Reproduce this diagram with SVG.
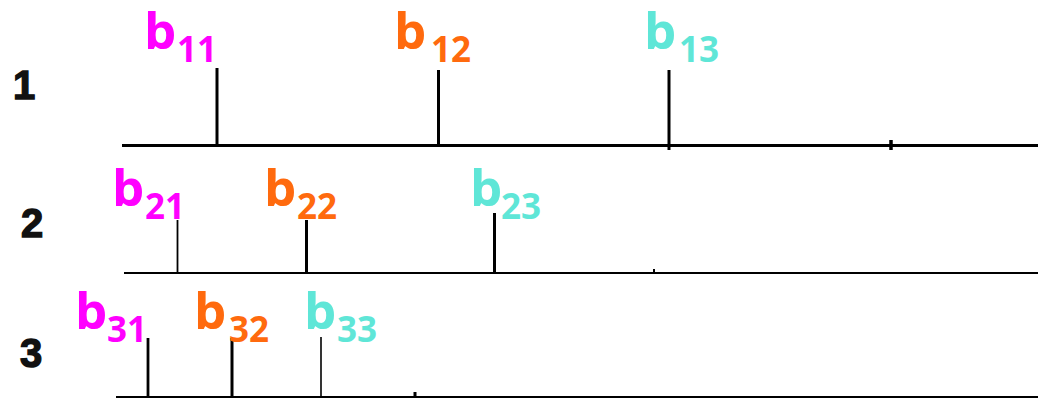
<svg xmlns="http://www.w3.org/2000/svg" width="1038" height="399" viewBox="0 0 1038 399">
<style>
.row{font-family:"Liberation Sans",Arial,sans-serif;font-weight:700;font-size:40px;fill:#111;stroke:#111;stroke-width:1.4}
.b{font-family:"Open Sans","Noto Sans",sans-serif;font-weight:700;font-size:51px}
.s{font-family:"Open Sans","Noto Sans",sans-serif;font-weight:700;font-size:35px}
.m{fill:#FF00FF}.o{fill:#FF6A0E}.t{fill:#5FE6D7}
.ax{stroke:#000;fill:none}
</style>
<rect width="1038" height="399" fill="#fff"/>
<g id="row-labels">
<text class="row" x="13" y="99">1</text>
<text class="row" x="21" y="237">2</text>
<text class="row" x="20" y="367">3</text>
</g>
<g id="connectors">
<line class="ax" x1="122" y1="145.5" x2="1038" y2="145.5" stroke-width="3"/>
<line class="ax" x1="217" y1="68" x2="217" y2="146" stroke-width="3"/>
<line class="ax" x1="438.5" y1="70" x2="438.5" y2="146" stroke-width="3"/>
<line class="ax" x1="669" y1="70" x2="669" y2="150" stroke-width="3"/>
<line class="ax" x1="891" y1="140" x2="891" y2="150" stroke-width="3.5"/>
<line class="ax" x1="124" y1="273" x2="1038" y2="273" stroke-width="2"/>
<line class="ax" x1="177.5" y1="220" x2="177.5" y2="273" stroke-width="1.8"/>
<line class="ax" x1="306.5" y1="220" x2="306.5" y2="273" stroke-width="3"/>
<line class="ax" x1="494.5" y1="213" x2="494.5" y2="273" stroke-width="3"/>
<line class="ax" x1="654" y1="269" x2="654" y2="273" stroke-width="2"/>
<line class="ax" x1="116" y1="397" x2="1038" y2="397" stroke-width="2"/>
<line class="ax" x1="148" y1="338" x2="148" y2="397" stroke-width="2.8"/>
<line class="ax" x1="232" y1="338" x2="232" y2="397" stroke-width="3"/>
<line class="ax" x1="321" y1="337" x2="321" y2="397" stroke-width="1.6"/>
<line class="ax" x1="415" y1="392" x2="415" y2="397" stroke-width="3"/>
</g>
<g id="b11"><text class="b m" x="144" y="49">b</text><text class="s m" x="177" y="62">11</text></g>
<g id="b12"><text class="b o" x="394" y="49">b</text><text class="s o" x="431" y="62">12</text></g>
<g id="b13"><text class="b t" x="644" y="49">b</text><text class="s t" x="679" y="62">13</text></g>
<g id="b21"><text class="b m" x="112" y="206">b</text><text class="s m" x="145" y="219">21</text></g>
<g id="b22"><text class="b o" x="264" y="206">b</text><text class="s o" x="297" y="219">22</text></g>
<g id="b23"><text class="b t" x="470" y="206">b</text><text class="s t" x="501" y="219">23</text></g>
<g id="b31"><text class="b m" x="75" y="329">b</text><text class="s m" x="107" y="342">31</text></g>
<g id="b32"><text class="b o" x="194" y="329">b</text><text class="s o" x="229" y="342">32</text></g>
<g id="b33"><text class="b t" x="304" y="329">b</text><text class="s t" x="337" y="342">33</text></g>
</svg>
